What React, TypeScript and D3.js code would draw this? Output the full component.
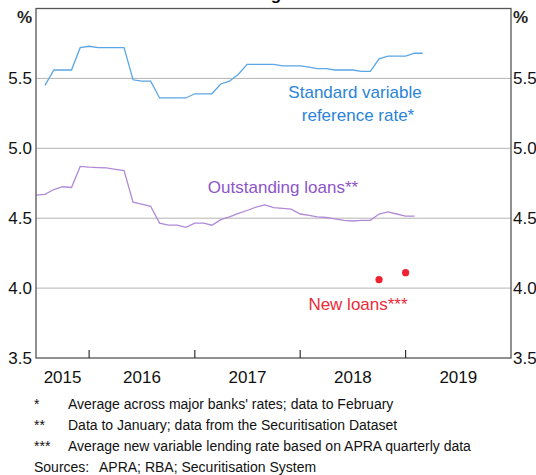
import React from "react";
import * as d3 from "d3";

// monthly data, each value plotted at the end of its month
const svrStart = "2015-07";
const svrValues = [
  5.45, 5.56, 5.56, 5.56, 5.72, 5.73,
  5.72, 5.72, 5.72, 5.72, 5.49, 5.48, 5.48, 5.36, 5.36, 5.36, 5.36, 5.39,
  5.39, 5.39, 5.46, 5.48, 5.53, 5.6, 5.6, 5.6, 5.6, 5.59, 5.59, 5.59,
  5.58, 5.57, 5.57, 5.56, 5.56, 5.56, 5.55, 5.55, 5.64, 5.66, 5.66, 5.66,
  5.68, 5.68,
];

const outStart = "2015-06";
const outValues = [
  4.665, 4.67, 4.705, 4.725, 4.72, 4.87, 4.865,
  4.862, 4.86, 4.85, 4.84, 4.615, 4.6, 4.585, 4.465, 4.45, 4.45, 4.435, 4.465,
  4.465, 4.45, 4.49, 4.51, 4.535, 4.555, 4.58, 4.595, 4.575, 4.57, 4.565, 4.53,
  4.52, 4.51, 4.505, 4.495, 4.485, 4.48, 4.485, 4.485, 4.53, 4.545, 4.53, 4.515,
  4.515,
];

// quarterly new loans (quarter end month)
const newLoanQuarters = ["2018-09", "2018-12"];
const newLoanValues = [4.06, 4.11];

const yTicks = [3.5, 4.0, 4.5, 5.0, 5.5];
const years = [2015, 2016, 2017, 2018, 2019];

const footnotes = [
  ["*", "Average across major banks' rates; data to February"],
  ["**", "Data to January; data from the Securitisation Dataset"],
  ["***", "Average new variable lending rate based on APRA quarterly data"],
];

const W = 536;
const H = 475;
const left = 36;
const right = 511;
const top = 8.5;
const bottom = 358;
const font = "'Liberation Sans', Arial, sans-serif";

const parseMonth = d3.utcParse("%Y-%m");

function monthly(start: string, values: number[]) {
  const s = parseMonth(start) as Date;
  return values.map((v, i) => ({ date: d3.utcMonth.offset(s, i + 1), value: v }));
}

export default function App() {
  const x = d3
    .scaleUtc()
    .domain([new Date(Date.UTC(2015, 6, 1)), new Date(Date.UTC(2020, 0, 1))])
    .range([left, right]);
  const y = d3.scaleLinear().domain([3.5, 6]).range([bottom, top]);

  const line = d3
    .line<{ date: Date; value: number }>()
    .x((d) => x(d.date))
    .y((d) => y(d.value));

  const svr = monthly(svrStart, svrValues);
  const out = monthly(outStart, outValues);
  const newLoans = newLoanQuarters.map((q, i) => ({
    date: d3.utcMonth.offset(parseMonth(q) as Date, 1),
    value: newLoanValues[i],
  }));

  const [d0, d1] = x.domain();

  return (
    <svg
      width={W}
      height={H}
      style={{ position: "absolute", left: 0, top: 0, fontFamily: font }}
    >
      <rect width={W} height={H} fill="#fff" />
      {/* title is cropped off the top in the reference, only a descender shows */}
      <text x={(left + right) / 2} y={-0.5} textAnchor="middle" fontSize={17} fontWeight="bold">
        Lending Rates
      </text>

      {/* gridlines */}
      {yTicks.slice(1).map((t) => (
        <line key={t} x1={left} x2={right} y1={y(t)} y2={y(t)} stroke="#b4b4b4" strokeWidth={1} />
      ))}

      {/* series */}
      <path d={line(svr) || ""} fill="none" stroke="#5ba6e6" strokeWidth={1.3} />
      <path d={line(out) || ""} fill="none" stroke="#b08ad8" strokeWidth={1.3} />
      {newLoans.map((d, i) => (
        <circle key={i} cx={x(d.date)} cy={y(d.value)} r={3.6} fill="#ee2233" />
      ))}

      {/* frame */}
      <rect
        x={left}
        y={top}
        width={right - left}
        height={bottom - top}
        fill="none"
        stroke="#555"
        strokeWidth={1.3}
      />
      {years.slice(1).map((yr) => {
        const xx = x(new Date(Date.UTC(yr, 0, 1)));
        return <line key={yr} x1={xx} x2={xx} y1={bottom} y2={bottom - 8} stroke="#333" strokeWidth={1.2} />;
      })}

      {/* y labels both sides */}
      {yTicks.map((t) => (
        <g key={t} fontSize={17} fill="#111">
          <text x={left - 4} y={y(t)} dy="0.35em" textAnchor="end">
            {t.toFixed(1)}
          </text>
          <text x={right + 2} y={y(t)} dy="0.35em" textAnchor="start">
            {t.toFixed(1)}
          </text>
        </g>
      ))}
      <text x={left - 4} y={23} textAnchor="end" fontSize={17} fontWeight="bold" fill="#222">
        %
      </text>
      <text x={right + 2} y={23} textAnchor="start" fontSize={17} fontWeight="bold" fill="#222">
        %
      </text>

      {/* year labels */}
      {years.map((yr) => {
        const a = Math.max(+new Date(Date.UTC(yr, 0, 1)), +d0);
        const b = Math.min(+new Date(Date.UTC(yr + 1, 0, 1)), +d1);
        return (
          <text key={yr} x={(x(new Date(a)) + x(new Date(b))) / 2} y={383} textAnchor="middle" fontSize={17} fill="#111">
            {yr}
          </text>
        );
      })}

      {/* series labels */}
      <g fontSize={17} textAnchor="middle" fill="#2a84d8">
        <text x={355} y={98}>Standard variable</text>
        <text x={358} y={120.5}>reference rate*</text>
      </g>
      <text x={283} y={193} textAnchor="middle" fontSize={17} fill="#8d55c8">
        Outstanding loans**
      </text>
      <text x={358} y={310} textAnchor="middle" fontSize={17} fill="#ee2a3a">
        New loans***
      </text>

      {/* footnotes */}
      <g fontSize={14} fill="#111">
        {footnotes.map(([m, t], i) => (
          <g key={i}>
            <text x={34} y={409 + i * 21}>{m}</text>
            <text x={68} y={409 + i * 21}>{t}</text>
          </g>
        ))}
        <text x={34} y={472}>Sources:</text>
        <text x={99} y={472}>APRA; RBA; Securitisation System</text>
      </g>
    </svg>
  );
}
